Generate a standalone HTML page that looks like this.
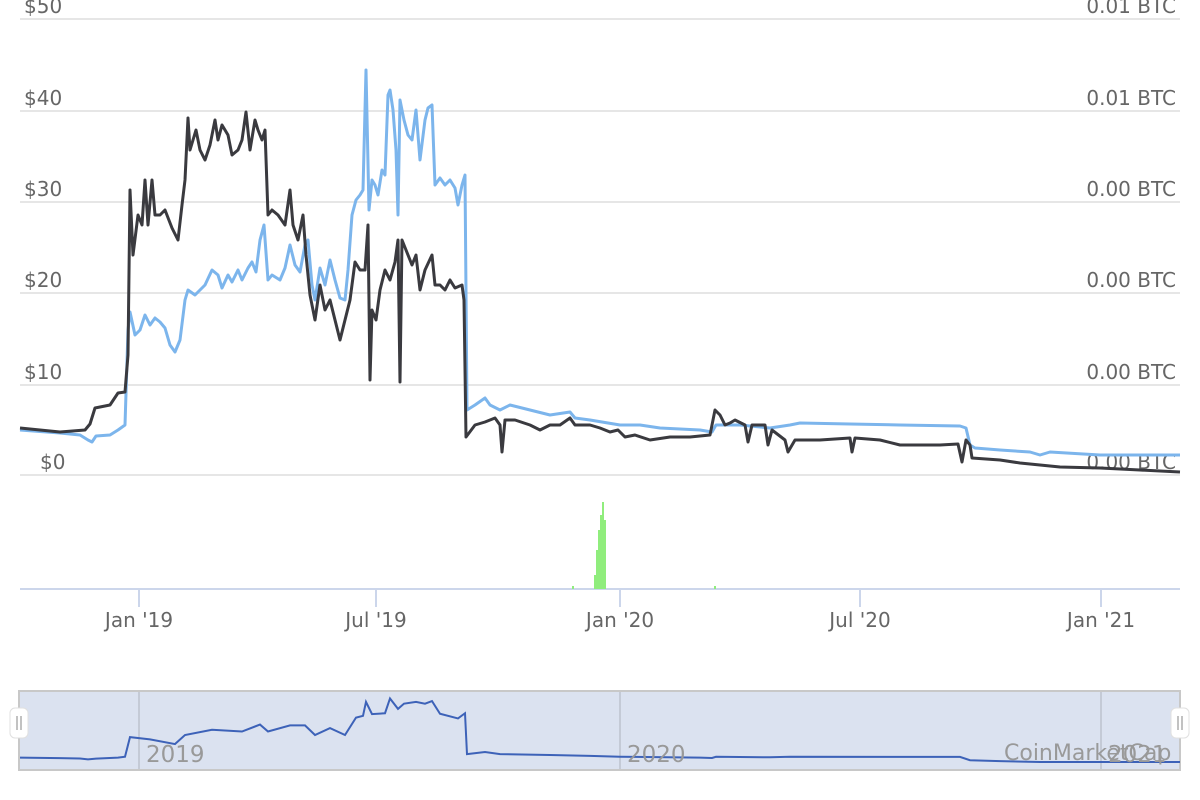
<!DOCTYPE html>
<html><head><meta charset="utf-8"><style>
html,body{margin:0;padding:0;background:#fff;}
svg{display:block;font-family:"DejaVu Sans","Liberation Sans",sans-serif;}
</style></head><body>
<svg width="1200" height="800" viewBox="0 0 1200 800" xmlns="http://www.w3.org/2000/svg">
<g stroke="#e6e6e6" stroke-width="2">
<line x1="20" y1="19" x2="1180" y2="19"/>
<line x1="20" y1="111" x2="1180" y2="111"/>
<line x1="20" y1="202" x2="1180" y2="202"/>
<line x1="20" y1="293" x2="1180" y2="293"/>
<line x1="20" y1="385" x2="1180" y2="385"/>
<line x1="20" y1="475" x2="1180" y2="475"/>
</g>
<g fill="#666" font-size="20">
<text x="24" y="13">$50</text>
<text x="24" y="105">$40</text>
<text x="24" y="196">$30</text>
<text x="24" y="287">$20</text>
<text x="24" y="379">$10</text>
<text x="40" y="469">$0</text>
<g text-anchor="end">
<text x="1176" y="13">0.01 BTC</text>
<text x="1176" y="105">0.01 BTC</text>
<text x="1176" y="196">0.00 BTC</text>
<text x="1176" y="287">0.00 BTC</text>
<text x="1176" y="379">0.00 BTC</text>
<text x="1176" y="469">0.00 BTC</text>
</g>
</g>
<line x1="20" y1="589" x2="1180" y2="589" stroke="#ccd6eb" stroke-width="2"/>
<g stroke="#ccd6eb" stroke-width="2">
<line x1="139" y1="589" x2="139" y2="607"/><line x1="376" y1="589" x2="376" y2="607"/>
<line x1="620" y1="589" x2="620" y2="607"/><line x1="860" y1="589" x2="860" y2="607"/>
<line x1="1101" y1="589" x2="1101" y2="607"/>
</g>
<g fill="#666" font-size="20" text-anchor="middle">
<text x="139" y="627">Jan '19</text><text x="376" y="627">Jul '19</text>
<text x="620" y="627">Jan '20</text><text x="860" y="627">Jul '20</text>
<text x="1101" y="627">Jan '21</text>
</g>
<g fill="#90ed7d">
<rect x="594" y="575" width="2" height="14"/><rect x="596" y="550" width="2" height="39"/>
<rect x="598" y="530" width="2" height="59"/><rect x="600" y="515" width="2" height="74"/>
<rect x="602" y="502" width="2" height="87"/><rect x="604" y="520" width="2" height="69"/>
<rect x="572" y="586" width="2" height="3"/><rect x="714" y="586" width="2" height="3"/>
</g>
<polyline fill="none" stroke="#7cb5ec" stroke-width="3" stroke-linejoin="round" points="20,430 60,433 80,435 88,440 92,442 96,436 110,435 118,430 125,425 128,330 130,312 135,335 140,330 145,315 150,325 155,318 160,322 165,328 170,345 175,352 180,340 185,300 188,290 195,295 200,290 205,285 212,270 218,275 222,288 228,275 232,282 238,270 242,280 248,268 252,262 256,272 260,240 264,225 268,280 272,275 280,280 285,268 290,245 295,265 300,272 305,245 308,240 312,285 315,300 320,268 325,285 330,260 335,280 340,298 345,300 348,270 352,215 356,200 360,195 363,190 366,70 369,210 372,180 375,185 378,195 382,170 385,175 388,95 390,90 393,110 396,150 398,215 400,100 404,120 408,135 412,140 416,110 420,160 425,120 428,108 432,105 435,185 440,178 445,185 450,180 455,188 458,205 462,185 465,175 467,410 475,405 485,398 490,405 500,410 510,405 530,410 550,415 570,412 575,418 590,420 620,425 640,425 660,428 700,430 712,432 716,425 740,425 770,428 790,425 800,423 850,424 900,425 960,426 966,428 970,445 975,448 1000,450 1030,452 1040,455 1050,452 1100,455 1180,455"/>
<polyline fill="none" stroke="#3a3a3f" stroke-width="3" stroke-linejoin="round" points="20,428 60,432 85,430 90,424 95,408 110,405 118,393 125,392 128,355 130,190 133,255 138,215 142,225 145,180 148,225 152,180 155,215 160,215 165,210 172,228 178,240 182,205 185,180 188,118 190,150 193,140 196,130 200,150 205,160 210,145 215,120 218,140 222,125 228,135 232,155 238,150 242,140 246,112 250,150 255,120 258,130 262,140 265,130 268,215 272,210 278,215 285,225 290,190 293,225 298,240 303,215 306,255 310,295 315,320 320,285 325,310 330,300 335,320 340,340 345,320 350,300 355,262 360,270 365,270 368,225 370,380 372,310 376,320 380,290 385,270 390,280 395,262 398,240 400,382 402,240 406,250 412,265 416,255 420,290 425,270 432,255 435,285 440,285 445,290 450,280 455,288 462,285 464,300 466,437 475,425 485,422 495,418 500,425 502,452 505,420 515,420 530,425 540,430 550,425 560,425 570,418 575,425 590,425 600,428 610,432 618,430 625,437 635,435 650,440 670,437 690,437 710,435 715,410 720,415 725,425 730,423 735,420 745,425 748,442 752,425 765,425 768,445 772,430 785,440 788,452 795,440 820,440 850,438 852,452 855,438 880,440 900,445 940,445 958,444 962,462 966,440 970,445 972,458 1000,460 1020,463 1040,465 1060,467 1100,468 1140,470 1180,472"/>
<rect x="19" y="691" width="1161" height="79" fill="#dbe2f0" stroke="#c8c8c8" stroke-width="2"/>
<g stroke="#c4cad6" stroke-width="2">
<line x1="139" y1="692" x2="139" y2="769"/><line x1="620" y1="692" x2="620" y2="769"/><line x1="1101" y1="692" x2="1101" y2="769"/>
</g>
<polyline fill="none" stroke="#3d62b8" stroke-width="2" transform="translate(0,682.8) scale(1,0.174)" vector-effect="non-scaling-stroke" points="20,430 60,433 80,435 88,440 96,436 118,430 125,425 130,312 150,325 175,352 185,300 212,270 242,280 260,240 268,280 290,245 305,245 315,300 330,260 345,300 356,200 363,190 366,110 372,180 385,175 390,90 398,150 404,120 416,110 425,120 432,105 440,178 458,205 465,175 467,410 485,398 500,410 550,415 590,420 620,425 700,430 712,432 716,425 770,428 790,425 960,426 970,445 1000,450 1040,455 1100,455 1180,455"/>
<g fill="#999" font-size="23">
<text x="146" y="762">2019</text><text x="627" y="762">2020</text><text x="1108" y="762">2021</text>
<text x="1004" y="760" font-size="22">CoinMarketCap</text>
</g>
<g>
<rect x="10" y="708" width="18" height="30" rx="5" fill="#fff" stroke="#e0e0e0"/>
<rect x="1171" y="708" width="18" height="30" rx="5" fill="#fff" stroke="#e0e0e0"/>
<g stroke="#999" stroke-width="1.2">
<line x1="17" y1="716" x2="17" y2="730"/><line x1="21" y1="716" x2="21" y2="730"/>
<line x1="1178" y1="716" x2="1178" y2="730"/><line x1="1182" y1="716" x2="1182" y2="730"/>
</g>
</g>
</svg>
</body></html>
